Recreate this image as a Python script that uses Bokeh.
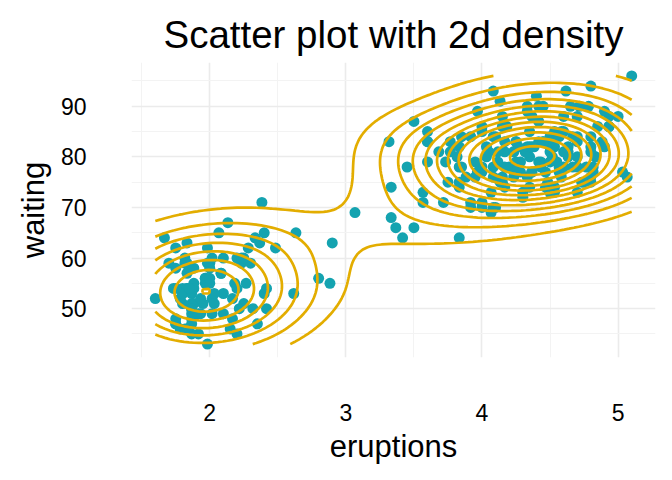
import numpy as np
from bokeh.plotting import figure
from bokeh.models import Range1d, FixedTicker
from bokeh.embed import file_html
from bokeh.resources import INLINE

# Old Faithful data
eruptions = [3.600,1.800,3.333,2.283,4.533,2.883,4.700,3.600,1.950,4.350,1.833,3.917,4.200,1.750,4.700,2.167,1.750,4.800,1.600,4.250,
1.800,1.750,3.450,3.067,4.533,3.600,1.967,4.083,3.850,4.433,4.300,4.467,3.367,4.033,3.833,2.017,1.867,4.833,1.833,4.783,
4.350,1.883,4.567,1.750,4.533,3.317,3.833,2.100,4.633,2.000,4.800,4.716,1.833,4.833,1.733,4.883,3.717,1.667,4.567,4.317,
2.233,4.500,1.750,4.800,1.817,4.400,4.167,4.700,2.067,4.700,4.033,1.967,4.500,4.000,1.983,5.067,2.017,4.567,3.883,3.600,
4.133,4.333,4.100,2.633,4.067,4.933,3.950,4.517,2.167,4.000,2.200,4.333,1.867,4.817,1.833,4.300,4.667,3.750,1.867,4.900,
2.483,4.367,2.100,4.500,4.050,1.867,4.700,1.783,4.850,3.683,4.733,2.300,4.900,4.417,1.700,4.633,2.317,4.600,1.817,4.417,
2.617,4.067,4.250,1.967,4.600,3.767,1.917,4.500,2.267,4.650,1.867,4.167,2.800,4.333,1.833,4.383,1.883,4.933,2.033,3.733,
4.233,2.233,4.533,4.817,4.333,1.983,4.633,2.017,5.100,1.800,5.033,4.000,2.400,4.600,3.567,4.000,4.500,4.083,1.800,3.967,
2.200,4.150,2.000,3.833,3.500,4.583,2.367,5.000,1.933,4.617,1.917,2.083,4.583,3.333,4.167,4.333,4.500,2.417,4.000,4.167,
1.883,4.583,4.250,3.767,2.033,4.433,4.083,1.833,4.417,2.183,4.800,1.833,4.800,4.100,3.966,4.233,3.500,4.366,2.250,4.667,
2.100,4.350,4.133,1.867,4.600,1.783,4.367,3.850,1.933,4.500,2.383,4.700,1.867,3.833,3.417,4.233,2.400,4.800,2.000,4.150,
1.867,4.267,1.750,4.483,4.000,4.117,4.083,4.267,3.917,4.550,4.083,2.417,4.183,2.217,4.450,1.883,1.850,4.283,3.950,2.333,
4.150,2.350,4.933,2.900,4.583,3.833,2.083,4.367,2.133,4.350,2.200,4.450,3.567,4.500,4.150,3.817,3.917,4.450,2.000,4.283,
4.767,4.533,1.850,4.250,1.983,2.250,4.750,4.117,2.150,4.417,1.817,4.467]
waiting = [79,54,74,62,85,55,88,85,51,85,54,84,78,47,83,52,62,84,52,79,
51,47,78,69,74,83,55,76,78,79,73,77,66,80,74,52,48,80,59,90,
80,58,84,58,73,83,64,53,82,59,75,90,54,80,54,83,71,64,77,81,
59,84,48,82,60,92,78,78,65,73,82,56,79,71,62,76,60,78,76,83,
75,82,70,65,73,88,76,80,48,86,60,90,50,78,63,72,84,75,51,82,
62,88,49,83,81,47,84,52,86,81,75,59,89,79,59,81,50,85,59,87,
53,69,77,56,88,81,45,82,55,90,45,83,56,89,46,82,51,86,53,79,
81,60,82,77,76,59,80,49,96,53,77,77,65,81,71,70,81,93,53,89,
45,86,58,78,66,76,63,88,52,93,49,57,77,68,81,81,73,50,85,74,
55,77,83,83,51,78,84,46,83,55,81,57,76,84,77,81,87,77,51,78,
60,82,91,53,78,46,77,84,49,83,71,80,49,75,64,76,53,94,55,76,
50,82,54,75,78,79,78,78,70,79,70,54,86,50,90,54,54,77,79,64,
75,47,86,63,85,82,57,82,67,74,54,83,73,73,88,80,71,83,56,79,
78,84,58,83,43,60,75,81,46,90,46,74]

x_ticks = [2, 3, 4, 5]
x_minor = [1.5, 2.5, 3.5, 4.5]
y_ticks = [50, 60, 70, 80, 90]
y_minor = [45, 55, 65, 75, 85, 95]

POINT_COLOR = "#14A3B0"
LINE_COLOR = "#E3AD00"
FONT = "Liberation Sans"

x = np.array(eruptions, dtype=float)
y = np.array(waiting, dtype=float)
n = len(x)


def bandwidth_nrd(v):
    q1, q3 = np.percentile(v, [25, 75])
    h = (q3 - q1) / 1.34
    return 4 * 1.06 * min(np.std(v, ddof=1), h) * len(v) ** (-0.2)


def r_pretty(lo, hi, nint=10):
    h = 1.5
    h5 = 0.5 + 1.5 * h
    cell = (hi - lo) / nint
    base = 10 ** np.floor(np.log10(cell))
    unit = base
    if 2 * base - cell < h * (cell - unit):
        unit = 2 * base
        if 5 * base - cell < h5 * (cell - unit):
            unit = 5 * base
            if 10 * base - cell < h * (cell - unit):
                unit = 10 * base
    ns = np.floor(lo / unit + 1e-7)
    nu = np.ceil(hi / unit - 1e-7)
    return np.arange(ns, nu + 1) * unit


# 2d kernel density (as MASS::kde2d, n = 100, over the data range)
gx = np.linspace(x.min(), x.max(), 100)
gy = np.linspace(y.min(), y.max(), 100)
hx = bandwidth_nrd(x) / 4
hy = bandwidth_nrd(y) / 4
kx = np.exp(-0.5 * ((gx[:, None] - x[None, :]) / hx) ** 2) / np.sqrt(2 * np.pi)
ky = np.exp(-0.5 * ((gy[:, None] - y[None, :]) / hy) ** 2) / np.sqrt(2 * np.pi)
z = (kx @ ky.T) / (n * hx * hy)   # shape (nx, ny)
levels = [lv for lv in r_pretty(z.min(), z.max(), 10) if z.min() < lv < z.max()]

xpad = (x.max() - x.min()) * 0.05
ypad = (y.max() - y.min()) * 0.05

p = figure(width=663, height=471, output_backend="svg", toolbar_location=None,
           x_range=Range1d(x.min() - xpad, x.max() + xpad),
           y_range=Range1d(y.min() - ypad, y.max() + ypad),
           frame_width=524, frame_height=295,
           min_border_left=131, min_border_right=8, min_border_top=62, min_border_bottom=114,
           title="Scatter plot with 2d density")

p.outline_line_color = None
p.background_fill_color = "white"
p.border_fill_color = "white"

p.title.text_font = FONT
p.title.text_font_size = "38.5px"
p.title.text_font_style = "normal"
p.title.text_color = "black"
p.title.align = "center"
p.title.standoff = 13

p.xaxis.ticker = FixedTicker(ticks=x_ticks, minor_ticks=x_minor)
p.yaxis.ticker = FixedTicker(ticks=y_ticks, minor_ticks=y_minor)
p.xaxis.axis_label = "eruptions"
p.yaxis.axis_label = "waiting"
for ax in (p.xaxis, p.yaxis):
    ax.axis_line_color = None
    ax.major_tick_line_color = None
    ax.minor_tick_line_color = None
    ax.major_tick_out = 0
    ax.minor_tick_out = 0
    ax.major_tick_in = 0
    ax.minor_tick_in = 0
    ax.major_label_text_font = FONT
    ax.major_label_text_font_size = "23px"
    ax.major_label_text_color = "black"
    ax.axis_label_text_font = FONT
    ax.axis_label_text_font_size = "31px"
    ax.axis_label_text_font_style = "normal"
    ax.axis_label_text_color = "black"
p.xaxis.major_label_standoff = 46
p.xaxis.axis_label_standoff = 5
p.yaxis.major_label_standoff = 45
p.yaxis.axis_label_standoff = 7

for g in (p.xgrid, p.ygrid):
    g.grid_line_color = "#EBEBEB"
    g.grid_line_width = 1.6
    g.minor_grid_line_color = "#F3F3F3"
    g.minor_grid_line_width = 1.0
p.xgrid.ticker = p.xaxis.ticker
p.ygrid.ticker = p.yaxis.ticker

p.scatter(x, y, size=11, fill_color=POINT_COLOR, line_color=None)
p.contour(gx, gy, z.T, levels, line_color=LINE_COLOR, line_width=2.7, fill_color=None)

open("out.html", "w").write(file_html(p, INLINE))
